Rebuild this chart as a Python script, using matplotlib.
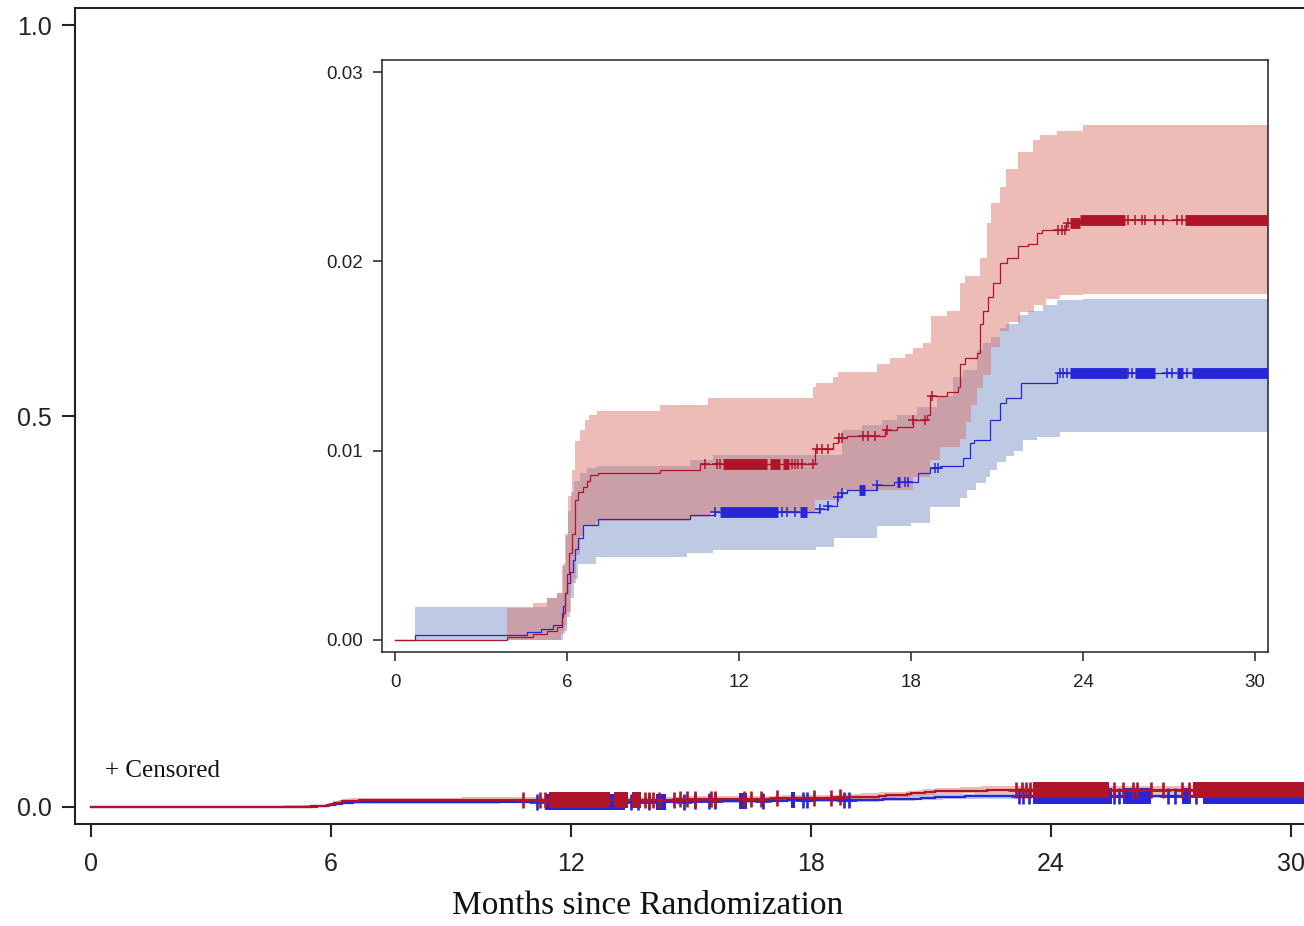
import numpy as np
import matplotlib
matplotlib.use("Agg")
import matplotlib.pyplot as plt

# ---------------- data ----------------
T_END = 30.45

# red group: cumulative incidence steps
red_t = [0, 3.9, 4.8, 5.3, 5.65, 5.83, 5.92, 6.0, 6.08, 6.17, 6.28, 6.4, 6.56, 6.7, 6.8, 7.08,
         9.24, 10.64, 14.65, 15.28, 15.45, 15.75, 17.1, 17.5, 18.07, 18.55, 18.66, 19.25, 19.64,
         19.7, 19.88, 20.3, 20.4, 20.5, 20.7, 20.86, 21.1, 21.35, 21.73, 22.08, 22.4, 22.57,
         23.4, 23.9]
red_v = [0, 0.00016, 0.0003, 0.0005, 0.0007, 0.0014, 0.0025, 0.0035, 0.0046, 0.0056, 0.0074,
         0.0078, 0.0081, 0.0084, 0.0087, 0.0088, 0.0090, 0.0093, 0.0101, 0.0104, 0.01066,
         0.0108, 0.0111, 0.01124, 0.0116, 0.01187, 0.0129, 0.0131, 0.01335, 0.0146, 0.0149,
         0.01515, 0.0167, 0.0174, 0.0181, 0.01884, 0.0199, 0.0202, 0.0208, 0.0209, 0.0215,
         0.02163, 0.0220, 0.02216]

red_up_t = [3.9, 4.8, 5.3, 5.65, 5.82, 5.93, 6.04, 6.17, 6.28, 6.45, 6.63, 6.75, 7.04, 9.24,
            10.9, 14.58, 14.7, 15.28, 15.45, 16.8, 17.27, 17.8, 18.07, 18.4, 18.7, 19.25,
            19.7, 19.88, 20.4, 20.65, 20.8, 21.1, 21.3, 21.73, 22.25, 22.5, 23.1, 24.0]
red_up_v = [0.0017, 0.00195, 0.0022, 0.0025, 0.0039, 0.0056, 0.0076, 0.0090, 0.0105, 0.0111,
            0.0116, 0.0119, 0.0121, 0.0124, 0.01277, 0.01335, 0.01356, 0.0139, 0.01414,
            0.0146, 0.01488, 0.0151, 0.0154, 0.0157, 0.0171, 0.0174, 0.01884, 0.0192, 0.0202,
            0.0220, 0.0231, 0.0239, 0.0249, 0.02575, 0.0264, 0.02665, 0.0269, 0.02718]

red_lo_t = [3.9, 5.8, 5.92, 6.0, 6.15, 6.3, 6.45, 6.6, 7.0, 10.3, 11.0, 14.65, 15.6, 18.07,
            18.66, 19.0, 19.7, 19.9, 20.1, 20.3, 20.5, 20.8, 21.1, 21.4, 21.8, 22.3, 22.7,
            23.2, 24.0]
red_lo_v = [0.0, 0.0003, 0.0008, 0.0015, 0.0030, 0.0045, 0.0055, 0.0060, 0.0063, 0.0065,
            0.0067, 0.0074, 0.0079, 0.0086, 0.0095, 0.0102, 0.0106, 0.0115, 0.0124, 0.0133,
            0.0140, 0.0155, 0.0163, 0.0168, 0.0173, 0.0177, 0.0180, 0.0182, 0.0183]

# blue group
blue_t = [0, 0.7, 4.6, 5.1, 5.5, 5.81, 5.87, 5.93, 6.0, 6.1, 6.2, 6.28, 6.4, 6.56, 7.08, 10.3,
          11.16, 14.8, 15.1, 15.4, 15.6, 15.75, 16.8, 17.4, 18.24, 18.66, 19.0, 19.8, 20.05,
          20.2, 20.75, 21.1, 21.3, 21.85, 23.1]
blue_v = [0, 0.00026, 0.0004, 0.0006, 0.0008, 0.0012, 0.0018, 0.0025, 0.0030, 0.0036, 0.0042,
          0.0048, 0.0054, 0.0061, 0.0064, 0.0066, 0.00675, 0.0069, 0.0071, 0.00755, 0.00775,
          0.0079, 0.0082, 0.00835, 0.0088, 0.0091, 0.0092, 0.0096, 0.0104, 0.01055, 0.0116,
          0.0125, 0.0128, 0.01356, 0.0141]

blue_up_t = [0.7, 5.3, 5.65, 5.85, 5.95, 6.05, 6.15, 6.25, 6.45, 6.7, 7.0, 10.3, 11.1, 15.6,
             16.3, 17.0, 17.5, 18.2, 18.9, 19.45, 19.8, 20.3, 20.5, 20.8, 21.1, 21.3, 21.73,
             22.08, 22.6, 23.1, 24.0]
blue_up_v = [0.00174, 0.0022, 0.0025, 0.0040, 0.0055, 0.0068, 0.0078, 0.0084, 0.0088, 0.0091,
             0.0092, 0.0095, 0.00976, 0.0111, 0.01135, 0.0116, 0.01187, 0.0123, 0.0129, 0.0139,
             0.01425, 0.0153, 0.01567, 0.0160, 0.0165, 0.0167, 0.01715, 0.0174, 0.01768,
             0.01794, 0.0180]

blue_lo_t = [0.7, 5.85, 6.0, 6.1, 6.25, 6.4, 7.0, 10.2, 11.1, 14.7, 15.3, 16.8, 18.0, 18.66,
             19.7, 19.95, 20.25, 20.6, 20.75, 21.0, 21.3, 21.6, 21.9, 22.4, 23.2]
blue_lo_v = [0.0, 0.0005, 0.0012, 0.0022, 0.0032, 0.0040, 0.0044, 0.0046, 0.00475, 0.0049,
             0.0054, 0.0060, 0.0062, 0.0070, 0.0075, 0.0079, 0.0083, 0.0086, 0.0090, 0.0094,
             0.0097, 0.0100, 0.01055, 0.0107, 0.0110]

# censored observations (single marks and dense runs)
red_cens = [10.8, 11.23, 11.34, 13.85, 13.95, 14.06, 14.2, 14.58, 14.72, 14.9, 15.1, 15.5,
            15.6, 16.32, 16.5, 16.74, 17.16, 18.07, 18.49, 18.73, 23.13, 23.27, 23.37, 23.47,
            25.57, 25.81, 26.06, 26.16, 26.5, 26.79, 27.28, 27.45]
red_runs_start = [11.44, 13.08, 13.53, 23.54, 23.9, 27.55]
red_runs_end = [12.98, 13.43, 13.74, 23.9, 25.46, 30.45]

blue_cens = [11.16, 13.5, 13.67, 13.95, 14.82, 15.1, 15.45, 15.6, 16.8, 17.8, 17.9, 18.83,
             18.94, 23.2, 23.3, 23.44, 25.57, 25.7, 26.93, 27.1, 27.62]
blue_runs_start = [11.34, 14.13, 16.2, 17.5, 23.54, 25.81, 27.28, 27.8]
blue_runs_end = [13.36, 14.37, 16.4, 17.6, 25.53, 26.5, 27.49, 30.45]

x_ticks = [0, 6, 12, 18, 24, 30]
main_y_ticks = [0.0, 0.5, 1.0]
inset_y_ticks = [0.00, 0.01, 0.02, 0.03]

# ---------------- styling ----------------
RED_LINE = '#B01428'
BLUE_LINE = '#2824D8'
RED_FILL = '#DA6B5D'
BLUE_FILL = '#BECAE4'
SPINE = '#222222'
SANS = ['Liberation Sans', 'DejaVu Sans']
SERIF = ['Liberation Serif', 'DejaVu Serif']


def step_path(t, v, t_end):
    xs, ys = [], []
    for i in range(len(t)):
        x1 = t[i + 1] if i + 1 < len(t) else t_end
        xs += [t[i], x1]
        ys += [v[i], v[i]]
    return xs, ys


def value_at(t, v, c):
    i = int(np.searchsorted(t, c, side='right')) - 1
    return v[max(i, 0)]


def draw(ax, lw, ms, mew, run_lw):
    ux, uy = step_path(blue_up_t, blue_up_v, T_END)
    lx, ly = step_path(blue_lo_t, blue_lo_v, T_END)
    ax.fill(ux + lx[::-1], uy + ly[::-1], color=BLUE_FILL, lw=0, zorder=1)
    ux, uy = step_path(red_up_t, red_up_v, T_END)
    lx, ly = step_path(red_lo_t, red_lo_v, T_END)
    ax.fill(ux + lx[::-1], uy + ly[::-1], color=RED_FILL, alpha=0.45, lw=0, zorder=2)
    for t, v, col, cens, rs, re, z in [
        (blue_t, blue_v, BLUE_LINE, blue_cens, blue_runs_start, blue_runs_end, 3),
        (red_t, red_v, RED_LINE, red_cens, red_runs_start, red_runs_end, 5)]:
        x, y = step_path(t, v, T_END)
        ax.plot(x, y, color=col, lw=lw, zorder=z, solid_joinstyle='miter')
        cy = [value_at(t, v, c) for c in cens]
        ax.plot(cens, cy, ls='none', marker='+', ms=ms, mew=mew, color=col, zorder=z + 0.5)
        ry = [value_at(t, v, s) for s in rs]
        ax.hlines(ry, rs, re, colors=col, lw=run_lw, zorder=z + 0.5, capstyle='butt')


fig = plt.figure(figsize=(13.04, 9.26), dpi=100)

# ---------------- main axes ----------------
ax = fig.add_axes([75 / 1304, 1 - 824 / 926, 1256 / 1304, 816 / 926])
draw(ax, lw=1.6, ms=12, mew=1.9, run_lw=11.5)
ax.set_xlim(-0.4, 31.0)
ax.set_ylim(-17 / 782, 1 + 17 / 782)
ax.set_xticks(x_ticks)
ax.set_xticklabels([str(x) for x in x_ticks])
ax.set_yticks(main_y_ticks)
ax.set_yticklabels([f"{y:.1f}" for y in main_y_ticks])
for s in ['left', 'bottom', 'top', 'right']:
    ax.spines[s].set_linewidth(1.5)
    ax.spines[s].set_color(SPINE)
ax.tick_params(axis='both', length=9.5, width=1.5, color=SPINE, labelcolor='#222222',
               labelsize=18, pad=7)
ax.tick_params(axis='x', pad=11)
for lab in ax.get_xticklabels() + ax.get_yticklabels():
    lab.set_family(SANS)

# ---------------- inset axes ----------------
ins = fig.add_axes([382 / 1304, 1 - 652 / 926, 886 / 1304, 592 / 926])
draw(ins, lw=0.9, ms=7.5, mew=1.1, run_lw=7.8)
ins.set_xlim(-13 / 28.667, 30.45)
ins.set_ylim(-12 / 18933, 0.03 + 12 / 18933)
ins.set_xticks(x_ticks)
ins.set_xticklabels([str(x) for x in x_ticks])
ins.set_yticks(inset_y_ticks)
ins.set_yticklabels([f"{y:.2f}" for y in inset_y_ticks])
for s in ins.spines.values():
    s.set_linewidth(1.1)
    s.set_color(SPINE)
ins.tick_params(axis='both', length=6.5, width=1.1, color=SPINE, labelcolor='#222222',
                labelsize=13.5, pad=7)
ins.tick_params(axis='x', pad=9)
for lab in ins.get_xticklabels() + ins.get_yticklabels():
    lab.set_family(SANS)

# ---------------- texts ----------------
fig.text(105 / 1304, 1 - 771 / 926, "+ Censored", family=SERIF, fontsize=18,
         ha='left', va='center', color='#111111')
fig.text(648 / 1304, 1 - 906 / 926, "Months since Randomization", family=SERIF,
         fontsize=24, ha='center', va='center', color='#111111')

fig.savefig("out.png", dpi=100)
